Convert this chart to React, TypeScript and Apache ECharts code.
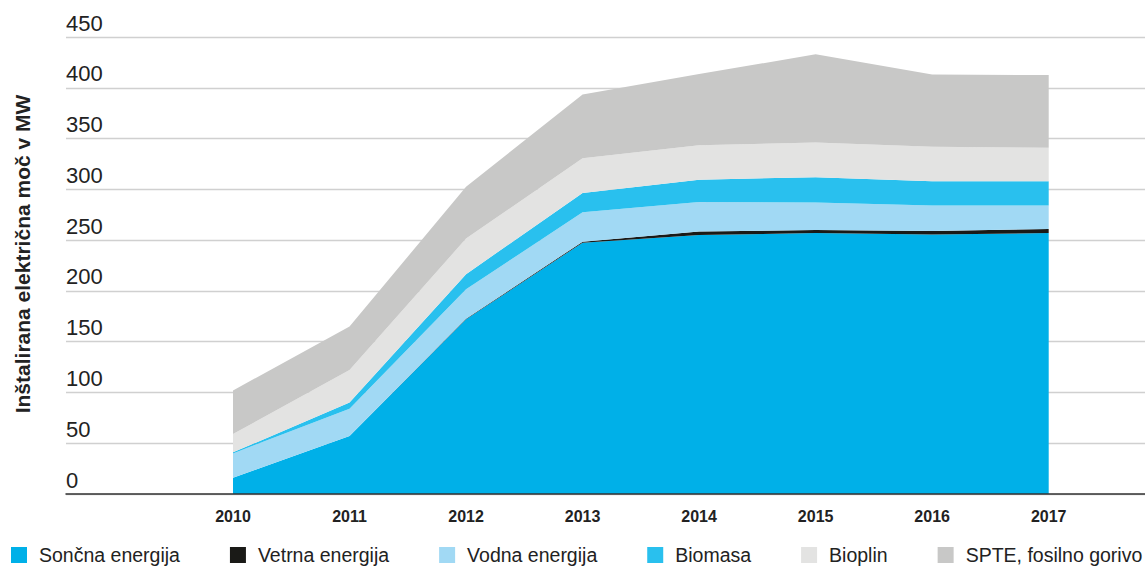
import React, { useEffect, useRef } from "react";
import * as echarts from "echarts";

const years = ["2010", "2011", "2012", "2013", "2014", "2015", "2016", "2017"];
const soncna = [16, 57, 172, 247.5, 255, 257, 255.5, 257];
const vetrna = [0, 0, 0.5, 1, 3.5, 3, 3.5, 4];
const vodna = [24, 27, 29, 29, 29, 27, 25, 23];
const biomasa = [1, 6, 15, 19, 22, 25, 24, 24];
const bioplin = [18, 32, 35, 34, 34, 34, 34, 33];
const spte = [43, 43, 51, 63, 70, 87, 71, 71.5];
const yTicks = [0, 50, 100, 150, 200, 250, 300, 350, 400, 450];

const seriesDefs = [
  { name: "Sončna energija", data: soncna, color: "#00b0e8" },
  { name: "Vetrna energija", data: vetrna, color: "#1a1a17" },
  { name: "Vodna energija", data: vodna, color: "#a1d9f4" },
  { name: "Biomasa", data: biomasa, color: "#29c0ee" },
  { name: "Bioplin", data: bioplin, color: "#e3e3e2" },
  { name: "SPTE, fosilno gorivo", data: spte, color: "#c8c8c7" },
];

const FONT = '"Liberation Sans", Arial, sans-serif';

export default function App() {
  const ref = useRef<HTMLDivElement>(null);
  useEffect(() => {
    if (!ref.current) return;
    const chart = echarts.init(ref.current, null, { renderer: "svg" });
    const yMin = yTicks[0];
    const yMax = yTicks[yTicks.length - 1];
    chart.setOption({
      animation: false,
      backgroundColor: "#ffffff",
      grid: [
        { left: 233, right: 96.3, top: 37, bottom: 79 },
        { left: 66, right: 0, top: 37, bottom: 79 },
      ],
      xAxis: [
        {
          type: "category",
          gridIndex: 0,
          data: years,
          boundaryGap: false,
          axisLine: { show: false },
          axisTick: { show: false },
          splitLine: { show: false },
          axisLabel: {
            fontFamily: FONT,
            fontWeight: "bold",
            fontSize: 16,
            color: "#222222",
            margin: 14,
          },
        },
        {
          type: "value",
          gridIndex: 1,
          min: 0,
          max: 1,
          z: 5,
          axisLine: { show: true, onZero: false, lineStyle: { color: "#333333", width: 1.5 } },
          axisTick: { show: false },
          axisLabel: { show: false },
          splitLine: { show: false },
        },
      ],
      yAxis: [
        {
          type: "value",
          gridIndex: 0,
          min: yMin,
          max: yMax,
          interval: 50,
          axisLine: { show: false },
          axisTick: { show: false },
          axisLabel: { show: false },
          splitLine: { show: false },
        },
        {
          type: "value",
          gridIndex: 1,
          min: yMin,
          max: yMax,
          interval: 50,
          axisLine: { show: false },
          axisTick: { show: false },
          splitLine: { lineStyle: { color: "#d0d0d0", width: 1.3 } },
          axisLabel: {
            inside: true,
            margin: 0,
            verticalAlign: "bottom",
            padding: [0, 0, 3, 0],
            fontFamily: FONT,
            fontSize: 22,
            color: "#222222",
          },
        },
      ],
      legend: {
        data: seriesDefs.map((s) => s.name),
        left: 11,
        top: 545,
        padding: 0,
        icon: "rect",
        itemWidth: 16,
        itemHeight: 16,
        itemGap: 50,
        selectedMode: false,
        textStyle: {
          fontFamily: FONT,
          fontSize: 19.5,
          color: "#222222",
          padding: [0, 0, 0, 7],
        },
      },
      graphic: [
        {
          type: "text",
          x: 22,
          y: 254,
          rotation: Math.PI / 2,
          style: {
            text: "Inštalirana električna moč v MW",
            fontFamily: FONT,
            fontWeight: "bold",
            fontSize: 21,
            fill: "#222222",
            align: "center",
            verticalAlign: "middle",
          },
        },
      ],
      series: seriesDefs.map((s) => ({
        name: s.name,
        type: "line",
        xAxisIndex: 0,
        yAxisIndex: 0,
        stack: "total",
        showSymbol: false,
        symbol: "none",
        itemStyle: { color: s.color },
        lineStyle: { width: 0, color: s.color },
        areaStyle: { color: s.color, opacity: 1 },
        data: s.data,
      })),
    });
    return () => chart.dispose();
  }, []);
  return (
    <div
      ref={ref}
      style={{ position: "fixed", left: 0, top: 0, width: 1145, height: 573, background: "#fff" }}
    />
  );
}
